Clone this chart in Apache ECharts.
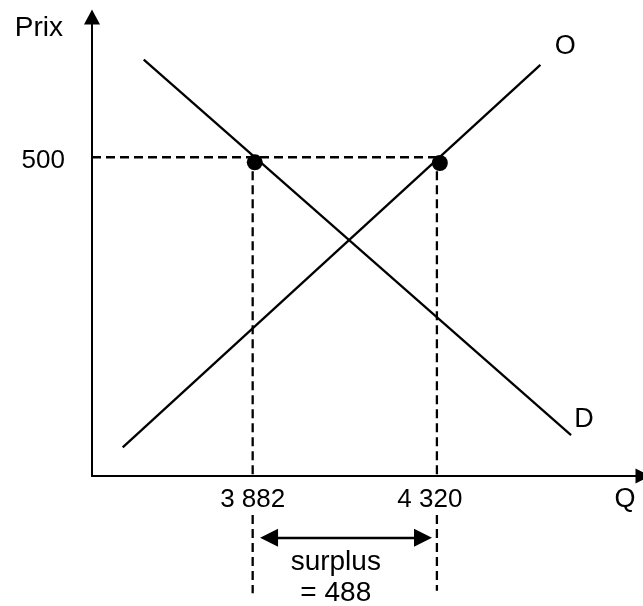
<!DOCTYPE html>
<html>
<head>
<meta charset="utf-8">
<script src="https://cdn.jsdelivr.net/npm/echarts@6/dist/echarts.min.js"></script>
<style>
html,body{margin:0;padding:0;background:#fff;}
#c{width:643px;height:606px;}
</style>
</head>
<body>
<div id="c"></div>
<script>
// ---- data ----
const xTickValues = [3882, 4320];
const xTickLabels = ['3 882', '4 320'];
const yTickValues = [500];
const yTickLabels = ['500'];
const demandQ = [3623, 4639];
const demandP = [653, 64];
const supplyQ = [3573, 4566];
const supplyP = [45, 645];
const dotQ = [3887, 4327];
const dotP = [492, 491];
const priceLevel = 500;
const surplusValue = 488;
const curveNames = ['D', 'O'];

const FONT = "'Liberation Sans', Arial, sans-serif";
const FS = 26;
const FL = 28;
const xMin = 3500, xMax = 4810, yMin = 0, yMax = 720;
const belowAxisTop = -61, belowAxisBottom = -184, arrowLevel = -97;

const chart = echarts.init(document.getElementById('c'), null, {renderer: 'canvas'});

const dashStyle = {color: '#000', width: 2.3, type: [9, 5], opacity: 1};

const option = {
  animation: false,
  backgroundColor: '#fff',
  textStyle: {fontFamily: FONT},
  grid: {left: 92, right: -2, top: 17, bottom: 130, containLabel: false},
  xAxis: {
    type: 'value', min: xMin, max: xMax,
    name: 'Q', nameLocation: 'end', nameGap: -18,
    nameTextStyle: {fontFamily: FONT, fontSize: 27, color: '#000', align: 'center', verticalAlign: 'top', padding: [10, 0, 0, 0]},
    axisLine: {show: true, onZero: false, symbol: ['none', 'triangle'], symbolSize: [15, 15], lineStyle: {color: '#000', width: 2}},
    axisTick: {show: false},
    splitLine: {show: false},
    axisLabel: {
      show: true, customValues: xTickValues, margin: 11,
      fontFamily: FONT, fontSize: FS, color: '#000',
      formatter: function (v) {
        const i = xTickValues.indexOf(v);
        return i === 1 ? '{r|' + xTickLabels[i] + '}' : xTickLabels[i];
      },
      rich: {r: {fontFamily: FONT, fontSize: FS, color: '#000', padding: [0, 14, 0, 0]}}
    }
  },
  yAxis: {
    type: 'value', min: yMin, max: yMax,
    name: 'Prix', nameLocation: 'end', nameGap: -11,
    nameTextStyle: {fontFamily: FONT, fontSize: FL, color: '#000', align: 'right', verticalAlign: 'middle', padding: [0, 29, 0, 0]},
    axisLine: {show: true, onZero: false, symbol: ['none', 'triangle'], symbolSize: [16, 15], lineStyle: {color: '#000', width: 2}},
    axisTick: {show: false},
    splitLine: {show: false},
    axisLabel: {
      show: true, customValues: yTickValues, margin: 27,
      fontFamily: FONT, fontSize: FS, color: '#000',
      formatter: function (v) { return '{a|' + yTickLabels[yTickValues.indexOf(v)] + '}'; },
      rich: {a: {fontFamily: FONT, fontSize: FS, color: '#000', padding: [8, 0, 0, 0]}}
    }
  },
  series: [
    // horizontal dashed price line
    {type: 'line', data: [[xMin, priceLevel], [dotQ[1], priceLevel]], symbol: 'none', lineStyle: dashStyle, z: 3},
    // vertical dashed lines above axis
    {type: 'line', data: [[xTickValues[0], priceLevel], [xTickValues[0], yMin]], symbol: 'none', lineStyle: dashStyle, z: 3},
    {type: 'line', data: [[xTickValues[1], priceLevel], [xTickValues[1], yMin]], symbol: 'none', lineStyle: dashStyle, z: 3},
    // vertical dashed lines below axis labels
    {type: 'line', clip: false, data: [[xTickValues[0], belowAxisTop], [xTickValues[0], belowAxisBottom]], symbol: 'none', lineStyle: dashStyle, z: 3},
    {type: 'line', clip: false, data: [[xTickValues[1], belowAxisTop], [xTickValues[1], belowAxisBottom + 4]], symbol: 'none', lineStyle: dashStyle, z: 3},
    // demand
    {type: 'line', name: curveNames[0], data: demandQ.map((q, i) => [q, demandP[i]]), symbol: 'none', lineStyle: {color: '#000', width: 2.3}, z: 4},
    // supply
    {type: 'line', name: curveNames[1], data: supplyQ.map((q, i) => [q, supplyP[i]]), symbol: 'none', lineStyle: {color: '#000', width: 2.3}, z: 4},
    // curve name labels at line ends
    {type: 'scatter', symbolSize: 0, z: 6, itemStyle: {opacity: 1},
      data: [
        {value: [demandQ[1], demandP[1]], label: {show: true, formatter: curveNames[0], offset: [13, -16]}},
        {value: [supplyQ[1], supplyP[1]], label: {show: true, formatter: curveNames[1], offset: [25, -18]}}
      ],
      label: {position: 'inside', fontFamily: FONT, fontSize: 27, color: '#000'}
    },
    // dots
    {type: 'scatter', data: dotQ.map((q, i) => [q, dotP[i]]), symbol: 'circle', symbolSize: 16, itemStyle: {color: '#000', opacity: 1}, z: 5},
    // surplus double arrow
    {type: 'lines', coordinateSystem: 'cartesian2d', clip: false, z: 5,
      symbol: ['triangle', 'triangle'], symbolSize: 18,
      lineStyle: {color: '#000', width: 2.3, opacity: 1},
      data: [{coords: [[3921, arrowLevel], [4287, arrowLevel]]}]
    },
    // surplus label
    {type: 'scatter', symbolSize: 0, clip: false, z: 6, itemStyle: {opacity: 1},
      data: [[(xTickValues[0] + xTickValues[1]) / 2, arrowLevel]],
      label: {show: true, position: 'inside', offset: [-9, 40], lineHeight: 31,
        fontFamily: FONT, fontSize: FL, color: '#000',
        formatter: 'surplus\n= ' + surplusValue}
    }
  ]
};
chart.setOption(option);
</script>
</body>
</html>
